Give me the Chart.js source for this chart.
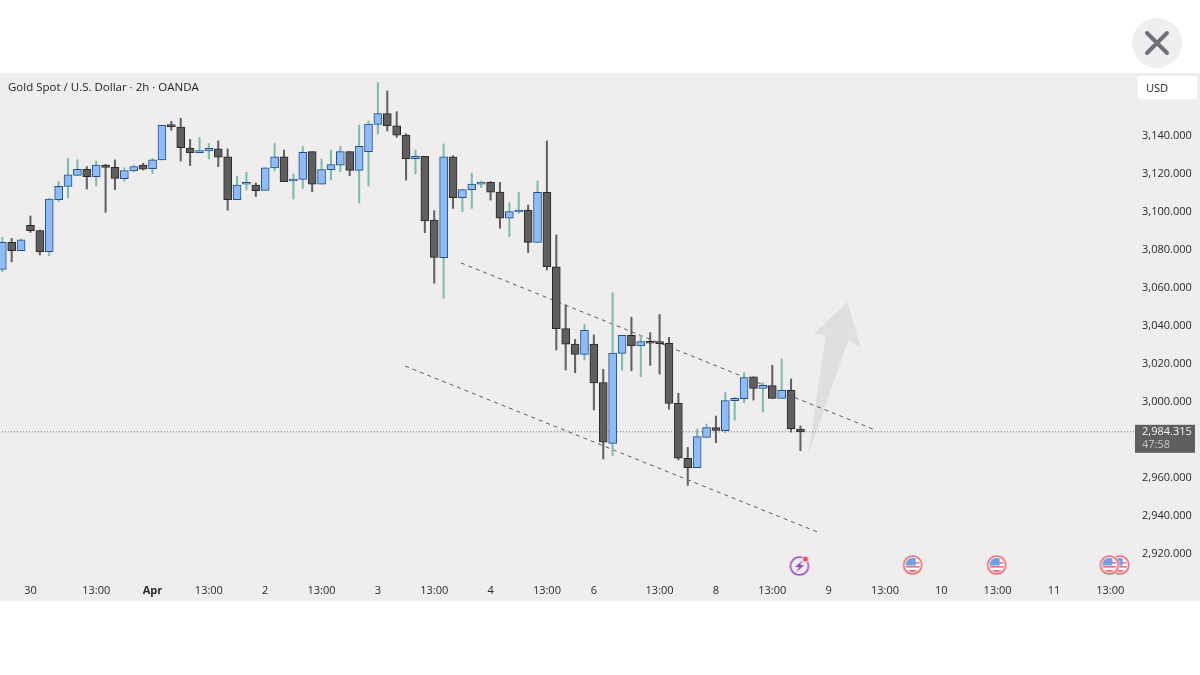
<!DOCTYPE html>
<html>
<head>
<meta charset="utf-8">
<title>Gold Spot / U.S. Dollar</title>
<script src="https://cdn.jsdelivr.net/npm/chart.js@4"></script>
<style>
  html, body { margin: 0; padding: 0; background: #fff; width: 1200px; height: 675px; overflow: hidden; }
  #chart { position: absolute; left: 0; top: 73px; display: block; }
  #close { position: absolute; left: 1132px; top: 18px; width: 50px; height: 50px; border-radius: 50%; background: #efefef; }
  #usd { position: absolute; left: 1138px; top: 76px; width: 51px; height: 23px; padding-left: 8px; background: #fff; border-radius: 3px;
         font: 11px "Open Sans", sans-serif; line-height: 23px; color: #222; }
</style>
</head>
<body>
<canvas id="chart" width="1200" height="528"></canvas>
<div id="close"><svg width="50" height="50"><path d="M15 15 L35 35 M35 15 L15 35" stroke="#6e717a" stroke-width="4" stroke-linecap="round"/></svg></div>
<div id="usd">USD</div>
<script>
// ==================== Data ====================
const chartTitle = "Gold Spot / U.S. Dollar · 2h · OANDA";
const lastPrice = 2984.315;
const lastPriceLabel = "2,984.315";
const countdownLabel = "47:58";

const opens = [3069.8, 3084.0, 3079.6, 3093.0, 3090.2, 3079.1, 3106.5, 3113.5, 3119.3, 3122.5,
  3118.6, 3124.7, 3123.5, 3117.5, 3121.6, 3124.7, 3122.8, 3127.4, 3145.1, 3144.7,
  3133.7, 3131.2, 3132.1, 3133.3, 3129.0, 3106.5, 3114.6, 3114.2, 3111.4, 3123.2,
  3129.0, 3116.3, 3117.2, 3131.8, 3114.6, 3122.3, 3124.7, 3131.8, 3121.9, 3131.8,
  3146.1, 3151.8, 3145.4, 3140.5, 3128.1, 3129.3, 3095.8, 3076.0, 3129.1, 3107.5,
  3111.8, 3114.7, 3115.6, 3110.5, 3096.7, 3100.0, 3101.0, 3084.0, 3110.3, 3071.2,
  3038.6, 3030.5, 3025.1, 3030.5, 3010.2, 2978.2, 3025.6, 3035.1, 3029.5, 3031.6,
  3031.1, 3030.9, 2999.3, 2970.4, 2965.4, 2981.4, 2986.5, 2984.9, 3000.7, 3001.8,
  3013.3, 3007.2, 3008.6, 3001.9, 3006.1, 2985.8];
const closes = [3084.0, 3079.6, 3085.4, 3090.2, 3079.0, 3106.8, 3113.5, 3119.5, 3122.5, 3118.6,
  3124.7, 3123.5, 3117.7, 3121.8, 3123.9, 3122.6, 3127.5, 3145.6, 3144.9, 3133.9,
  3131.2, 3132.3, 3133.5, 3128.8, 3106.5, 3114.2, 3114.9, 3111.2, 3123.3, 3129.0,
  3116.0, 3116.7, 3131.4, 3114.7, 3122.3, 3124.9, 3131.8, 3121.9, 3134.6, 3146.3,
  3151.8, 3145.4, 3140.5, 3128.1, 3129.3, 3095.3, 3076.1, 3129.1, 3107.5, 3111.8,
  3114.7, 3115.8, 3110.5, 3096.7, 3100.2, 3101.0, 3084.0, 3110.3, 3071.2, 3038.6,
  3030.5, 3025.1, 3037.7, 3010.0, 2978.8, 3025.8, 3035.1, 3029.5, 3031.8, 3030.9,
  3030.7, 2999.3, 2970.4, 2965.4, 2981.8, 2986.5, 2985.1, 3000.7, 3001.9, 3012.8,
  3007.2, 3008.8, 3001.9, 3006.1, 2986.0, 2984.315];
const highs = [3086.7, 3086.1, 3085.8, 3097.9, 3090.5, 3107.2, 3116.0, 3128.2, 3127.5, 3123.9,
  3126.8, 3125.1, 3127.4, 3123.3, 3124.7, 3125.6, 3128.2, 3145.6, 3147.7, 3149.3,
  3138.2, 3139.3, 3136.0, 3137.5, 3133.2, 3118.8, 3120.9, 3115.3, 3123.3, 3136.0,
  3132.6, 3120.0, 3134.4, 3131.8, 3127.9, 3132.5, 3134.6, 3131.8, 3145.8, 3147.9,
  3168.1, 3163.7, 3152.8, 3141.2, 3132.6, 3129.3, 3100.7, 3135.8, 3129.6, 3111.8,
  3120.5, 3116.3, 3116.0, 3115.6, 3104.9, 3110.3, 3103.7, 3116.3, 3137.4, 3087.9,
  3051.1, 3033.0, 3040.9, 3035.3, 3017.2, 3057.5, 3035.1, 3044.6, 3035.1, 3036.5,
  3046.0, 3034.0, 3004.6, 2976.1, 2985.8, 2988.4, 2992.6, 3004.9, 3002.5, 3015.4,
  3013.3, 3010.2, 3019.3, 3022.6, 3012.1, 2987.4];
const lows = [3068.6, 3073.8, 3079.6, 3089.3, 3077.4, 3077.0, 3105.4, 3107.5, 3119.3, 3112.1,
  3113.7, 3099.8, 3111.8, 3116.3, 3121.2, 3122.1, 3120.2, 3127.4, 3143.0, 3126.8,
  3124.4, 3131.2, 3127.9, 3123.9, 3100.9, 3106.5, 3111.6, 3108.1, 3111.4, 3121.6,
  3116.0, 3106.8, 3112.3, 3110.7, 3114.6, 3116.8, 3121.2, 3119.1, 3104.7, 3113.7,
  3141.0, 3142.6, 3139.3, 3116.8, 3120.0, 3089.1, 3062.5, 3054.6, 3101.9, 3100.2,
  3101.9, 3112.8, 3106.3, 3091.4, 3087.2, 3099.3, 3078.6, 3084.0, 3069.5, 3027.4,
  3016.8, 3015.4, 3022.1, 2995.8, 2970.0, 2971.8, 3016.8, 3016.5, 3013.3, 3019.3,
  3014.7, 2996.2, 2969.5, 2956.1, 2965.4, 2981.4, 2978.6, 2983.9, 2990.5, 2999.6,
  3001.0, 2994.7, 3001.9, 3001.9, 2984.2, 2974.4];

const yTickValues = [3140, 3120, 3100, 3080, 3060, 3040, 3020, 3000, 2960, 2940, 2920];
const xTickBars = [3, 10, 16, 22, 28, 34, 40, 46, 52, 58, 63, 70, 76, 82, 88, 94, 100, 106, 112, 118];
const xTickLabels = ["30", "13:00", "Apr", "13:00", "2", "13:00", "3", "13:00", "4", "13:00", "6", "13:00", "8", "13:00", "9", "13:00", "10", "13:00", "11", "13:00"];

const upperTrend = [{ x: 48.85, y: 3073.2 }, { x: 92.7, y: 2985.8 }];
const lowerTrend = [{ x: 42.9, y: 3018.9 }, { x: 86.8, y: 2931.6 }];
const arrowShape = [{ x: 85.8, y: 2971.6 }, { x: 87.7, y: 3035.3 }, { x: 86.4, y: 3035.8 }, { x: 90.0, y: 3052.6 }, { x: 91.4, y: 3028.9 }, { x: 90.1, y: 3032.6 }, { x: 85.8, y: 2971.6 }];
const eventBars = [119, 117.9, 105.9, 96.95, 85.0];
const eventKinds = ["flag", "flag", "flag", "flag", "bolt"];
const eventLevel = 2914.2;

// ==================== Icons ====================
function makeFlagIcon() {
  const c = document.createElement("canvas");
  c.width = c.height = 22;
  const g = c.getContext("2d");
  g.beginPath(); g.arc(11, 11, 10.5, 0, Math.PI * 2); g.fillStyle = "#efeded"; g.fill();
  g.beginPath(); g.arc(11, 11, 9, 0, Math.PI * 2); g.fillStyle = "#f7f7f7"; g.fill();
  g.save();
  g.beginPath(); g.arc(11, 11, 7.2, 0, Math.PI * 2); g.clip();
  g.fillStyle = "#fff"; g.fillRect(0, 0, 22, 22);
  g.fillStyle = "#e8707a";
  g.fillRect(0, 8, 22, 1.6); g.fillRect(0, 12, 22, 1.6); g.fillRect(0, 16, 22, 3);
  g.fillStyle = "#6fa0e6"; g.fillRect(0, 0, 14, 11.5);
  g.restore();
  g.beginPath(); g.arc(11, 11, 9, 0, Math.PI * 2); g.strokeStyle = "#e8626b"; g.lineWidth = 1.5; g.stroke();
  return c;
}

function makeBoltIcon() {
  const c = document.createElement("canvas");
  c.width = c.height = 24;
  const g = c.getContext("2d");
  g.beginPath(); g.arc(11, 13, 9, 0, Math.PI * 2); g.strokeStyle = "#9c3fc4"; g.lineWidth = 1.5; g.stroke();
  g.beginPath(); g.moveTo(14.5, 7); g.lineTo(6.5, 14); g.lineTo(10.5, 14); g.lineTo(8, 19); g.lineTo(15.5, 12); g.lineTo(11.5, 12); g.closePath();
  g.fillStyle = "#9c3fc4"; g.fill();
  g.beginPath(); g.arc(17, 6, 3.4, 0, Math.PI * 2); g.fillStyle = "#efeded"; g.fill();
  g.beginPath(); g.arc(17, 6, 2.5, 0, Math.PI * 2); g.fillStyle = "#ef4a5a"; g.fill();
  return c;
}

const flagIcon = makeFlagIcon();
const boltIcon = makeBoltIcon();

// ==================== Overlay (title, price tag) ====================
const overlayPlugin = {
  id: "overlay",
  afterDraw(chart) {
    const ctx = chart.ctx;
    const y = chart.scales.y.getPixelForValue(lastPrice);
    ctx.save();
    ctx.textBaseline = "middle";
    ctx.textAlign = "left";
    ctx.font = "11.5px 'Open Sans', sans-serif";
    ctx.fillStyle = "#1e1e1e";
    ctx.fillText(chartTitle, 8, 14.5);
    ctx.font = "11px 'Open Sans', sans-serif";
    ctx.fillStyle = "#5f5f5f";
    ctx.fillRect(1135, y - 7, 60, 28);
    ctx.fillStyle = "#f2f2f2";
    ctx.fillText(lastPriceLabel, 1142, y);
    ctx.fillStyle = "#c8c8c8";
    ctx.fillText(countdownLabel, 1142, y + 13);
    ctx.restore();
  }
};

// ==================== Chart ====================
const isUp = opens.map((o, i) => closes[i] >= o);

new Chart(document.getElementById("chart").getContext("2d"), {
  type: "bar",
  plugins: [overlayPlugin],
  data: {
    datasets: [
      {
        type: "line",
        label: "events",
        data: eventBars.map(b => ({ x: b, y: eventLevel })),
        showLine: false,
        pointStyle: eventKinds.map(k => k === "bolt" ? boltIcon : flagIcon),
        order: 0
      },
      {
        label: "bodies",
        data: opens.map((o, i) => ({ x: i, y: [o, closes[i]] })),
        backgroundColor: isUp.map(u => u ? "#90bcf3" : "#5f5f5f"),
        borderColor: isUp.map(u => u ? "#1f4f8c" : "#2a2a2a"),
        borderWidth: 1,
        borderSkipped: false,
        barThickness: 8,
        minBarLength: 2,
        order: 1
      },
      {
        label: "wicks",
        data: lows.map((l, i) => ({ x: i, y: [l, highs[i]] })),
        backgroundColor: isUp.map(u => u ? "#7dbcb0" : "#626262"),
        borderWidth: 0,
        barThickness: 1.4,
        order: 2
      },
      {
        type: "line",
        label: "upper channel",
        data: upperTrend,
        borderColor: "#5a5a5a",
        borderWidth: 1,
        borderDash: [4, 4],
        pointRadius: 0,
        order: 3
      },
      {
        type: "line",
        label: "lower channel",
        data: lowerTrend,
        borderColor: "#5a5a5a",
        borderWidth: 1,
        borderDash: [4, 4],
        pointRadius: 0,
        order: 3
      },
      {
        type: "line",
        label: "last price",
        data: [{ x: -1, y: lastPrice }, { x: 125, y: lastPrice }],
        borderColor: "#6f6f6f",
        borderWidth: 1,
        borderDash: [1, 2],
        pointRadius: 0,
        order: 4
      },
      {
        type: "line",
        label: "arrow",
        data: arrowShape,
        borderWidth: 0,
        backgroundColor: "rgba(195, 195, 195, 0.34)",
        fill: "shape",
        tension: 0,
        pointRadius: 0,
        order: 5
      }
    ]
  },
  options: {
    responsive: false,
    animation: false,
    events: [],
    plugins: {
      legend: { display: false },
      tooltip: { enabled: false }
    },
    layout: { padding: 0, autoPadding: false },
    datasets: { bar: { grouped: false } },
    scales: {
      x: {
        type: "linear",
        offset: false,
        min: -0.245,
        max: 120.63,
        grid: { display: false, drawTicks: false },
        border: { display: false },
        afterBuildTicks(scale) { scale.ticks = xTickBars.map(v => ({ value: v })); },
        afterFit(scale) { scale.height = 23; scale.paddingLeft = 0; scale.paddingRight = 0; },
        ticks: {
          autoSkip: false,
          maxRotation: 0,
          padding: 6,
          color: "#2a2a2a",
          font: ctx => ({ family: "'Open Sans', sans-serif", size: 11, weight: ctx.tick && ctx.tick.value === 16 ? "bold" : "normal" }),
          callback: value => xTickLabels[xTickBars.indexOf(value)]
        }
      },
      y: {
        type: "linear",
        position: "right",
        min: 2907.37,
        max: 3173.16,
        grid: { display: false, drawTicks: false },
        border: { display: false },
        afterBuildTicks(scale) { scale.ticks = yTickValues.map(v => ({ value: v })); },
        afterFit(scale) { scale.width = 65; scale.paddingTop = 0; scale.paddingBottom = 0; },
        ticks: {
          autoSkip: false,
          padding: 7,
          color: "#2a2a2a",
          font: { family: "'Open Sans', sans-serif", size: 11 },
          callback: value => value.toLocaleString("en-US", { minimumFractionDigits: 3 })
        }
      }
    }
  }
});

document.getElementById("chart").style.background = "#efeded";
</script>
</body>
</html>
